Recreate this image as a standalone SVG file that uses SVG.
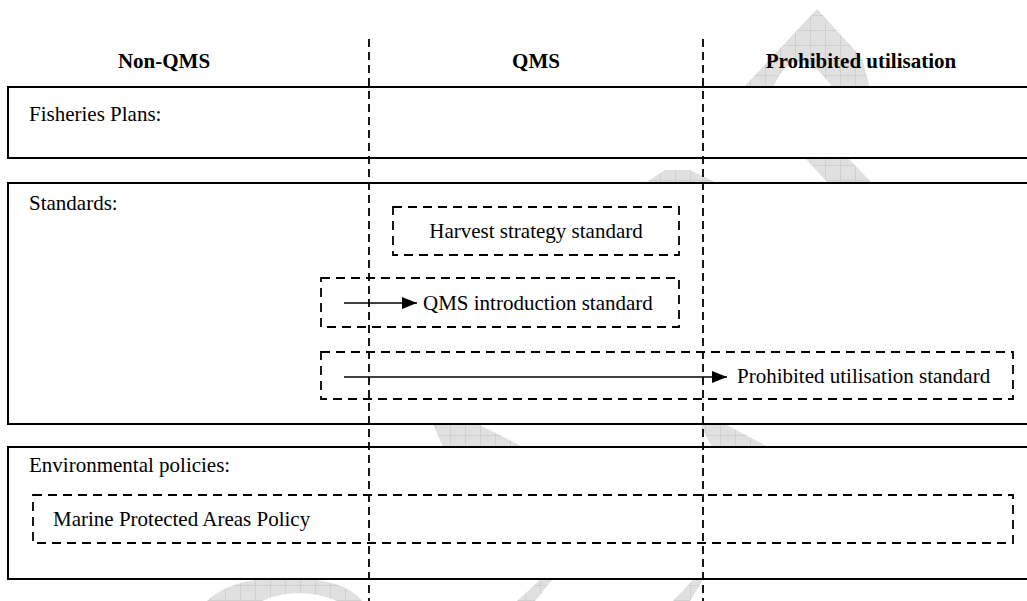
<svg xmlns="http://www.w3.org/2000/svg" width="1027" height="601" viewBox="0 0 1027 601">
<style>
text{font-family:"Liberation Serif","Times New Roman",serif;font-size:21px;fill:#000}
.hdr{font-weight:bold;text-anchor:middle}
.row{fill:#fff;stroke:#000;stroke-width:2}
.box{fill:none;stroke:#000;stroke-width:1.8;stroke-dasharray:9 6}
.sep{stroke:#000;stroke-width:1.8;stroke-dasharray:8 5}
.wm{fill:url(#grid);stroke:none}
.conn{stroke:#000;stroke-width:1.6;fill:none}
</style>
<defs>
<pattern id="grid" width="15" height="15" patternUnits="userSpaceOnUse">
<rect width="15" height="15" fill="#e0e0e0"/>
<path d="M0,0.5H15M0.5,0V15" stroke="#d0d0d0" stroke-width="1"/>
</pattern>
<marker id="ah" markerWidth="16" markerHeight="12" refX="15" refY="6" orient="auto" markerUnits="userSpaceOnUse">
<path d="M0,0L15,6L0,12Z" fill="#000"/>
</marker>
</defs>
<rect width="1027" height="601" fill="#fff"/>
<g id="watermark">
<path class="wm" fill-rule="evenodd" d="M743,88 L817,9 L862,58 L870,88 Z M773,88 Q795,35 833,88 Z"/>
<path class="wm" d="M645,183 L665,170 L690,170 L717,183 Z"/>
<path class="wm" d="M805,158 L848,158 L872,183 L828,183 Z"/>
<path class="wm" d="M433,424 L478,424 L523,447 L443,447 Z"/>
<path class="wm" d="M700,424 L725,424 L768,447 L712,447 Z"/>
<path class="wm" fill-rule="evenodd" d="M207,601 Q230,578 285,578 Q345,578 362,601 Z M262,601 Q298,585 337,601 Z"/>
<path class="wm" d="M517,601 L540,580 L552,580 L535,601 Z"/>
<path class="wm" d="M673,601 L693,580 L703,580 L690,601 Z"/>
</g>
<g id="headers">
<text class="hdr" x="164" y="68">Non-QMS</text>
<text class="hdr" x="536" y="68">QMS</text>
<text class="hdr" x="861" y="68">Prohibited utilisation</text>
</g>
<g id="row-fisheries">
<rect class="row" x="8" y="87" width="1030" height="71"/>
<text x="29" y="121">Fisheries Plans:</text>
</g>
<g id="row-standards">
<rect class="row" x="8" y="183" width="1030" height="241"/>
<text x="29" y="210">Standards:</text>
</g>
<g id="row-environmental">
<rect class="row" x="8" y="447" width="1030" height="132"/>
<text x="29" y="472">Environmental policies:</text>
</g>
<g id="harvest">
<rect class="box" x="393" y="207" width="286" height="48"/>
<text x="536" y="238" text-anchor="middle">Harvest strategy standard</text>
</g>
<g id="qms-intro">
<rect class="box" x="321" y="278" width="358" height="49"/>
<text x="423" y="310">QMS introduction standard</text>
</g>
<g id="prohibited">
<rect class="box" x="321" y="352" width="692" height="47"/>
<text x="737" y="383">Prohibited utilisation standard</text>
</g>
<g id="mpa">
<rect class="box" x="33" y="495" width="980" height="48"/>
<text x="53" y="526">Marine Protected Areas Policy</text>
</g>
<g id="separators">
<line class="sep" x1="369" y1="39" x2="369" y2="601"/>
<line class="sep" x1="703" y1="39" x2="703" y2="601"/>
</g>
<g id="connectors">
<line class="conn" x1="344" y1="303" x2="417" y2="303" marker-end="url(#ah)"/>
<line class="conn" x1="344" y1="377" x2="727" y2="377" marker-end="url(#ah)"/>
</g>
</svg>
